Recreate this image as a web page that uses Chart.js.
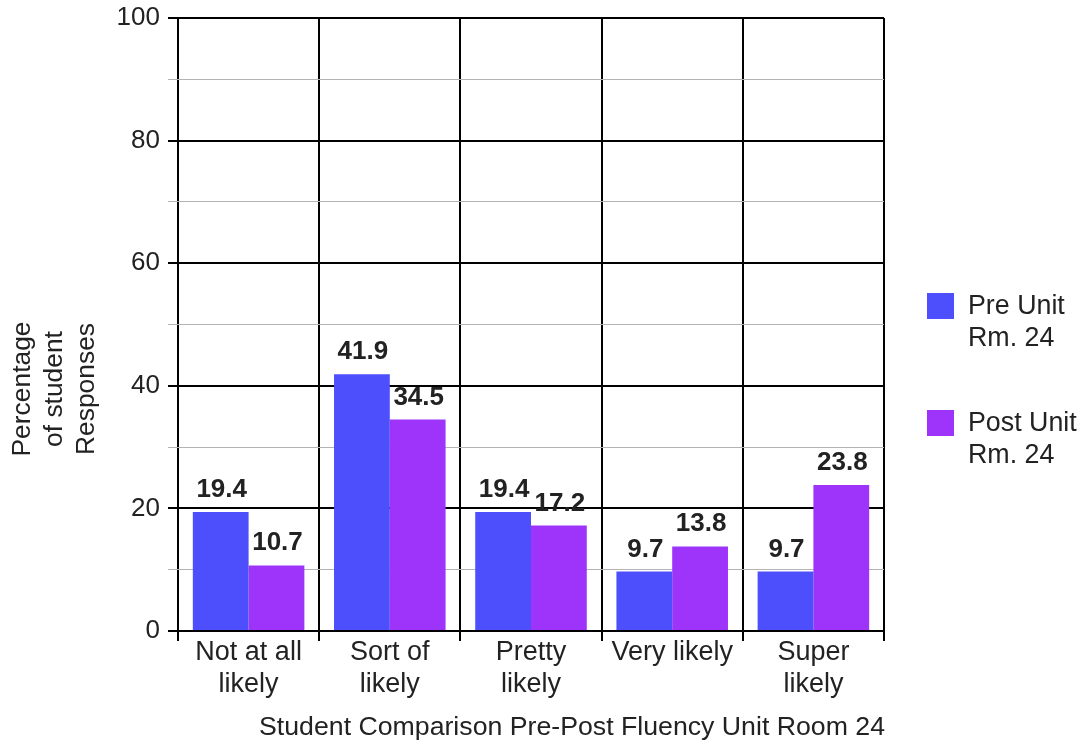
<!DOCTYPE html>
<html>
<head>
<meta charset="utf-8">
<script src="https://cdn.jsdelivr.net/npm/chart.js@4/dist/chart.umd.min.js"></script>
<style>
  html, body { margin: 0; padding: 0; background: #fff; }
  #wrap { width: 1083px; height: 746px; }
</style>
</head>
<body>
<div id="wrap"><canvas id="chart" width="1083" height="746"></canvas></div>
<script>
// Response categories (multi-line tick labels)
const categories = [
  ['Not at all', 'likely'],
  ['Sort of', 'likely'],
  ['Pretty', 'likely'],
  ['Very likely'],
  ['Super', 'likely']
];
// Percentage of student responses per category
const preUnit = [19.4, 41.9, 19.4, 9.7, 9.7];
const postUnit = [10.7, 34.5, 17.2, 13.8, 23.8];
// Series names, shown on two lines in the legend
const preName = ['Pre Unit', 'Rm. 24'];
const postName = ['Post Unit', 'Rm. 24'];
// Axis titles
const xTitle = 'Student Comparison Pre-Post Fluency Unit Room 24';
const yTitle = ['Percentage', 'of student', 'Responses'];
// Value axis range and steps
const yMin = 0, yMax = 100, yStep = 10, yLabelStep = 20;

const FONT = "'Liberation Sans', Arial, sans-serif";
const TEXT = '#222';
const PRE_COLOR = '#4c4ffb';
const POST_COLOR = '#9e34fa';

// Value labels, axis titles and the side legend
const extras = {
  id: 'extras',
  afterDatasetsDraw(chart) {
    const ctx = chart.ctx;
    ctx.save();
    ctx.fillStyle = TEXT;
    ctx.font = 'bold 26px ' + FONT;
    ctx.textAlign = 'center';
    ctx.textBaseline = 'alphabetic';
    chart.data.datasets.forEach((ds, i) => {
      chart.getDatasetMeta(i).data.forEach((bar, j) => {
        ctx.fillText(ds.data[j].toFixed(1), bar.x + 1, bar.y - 15);
      });
    });
    ctx.restore();
  },
  afterDraw(chart) {
    const ctx = chart.ctx;
    const area = chart.chartArea;
    ctx.save();
    ctx.fillStyle = TEXT;
    ctx.textBaseline = 'middle';

    // x axis title, right-aligned to the plot
    ctx.font = '26.7px ' + FONT;
    ctx.textAlign = 'right';
    ctx.fillText(xTitle, area.right + 1, 728);

    // y axis title, three rotated lines
    ctx.font = '26.4px ' + FONT;
    ctx.textAlign = 'center';
    yTitle.forEach((line, k) => {
      ctx.save();
      ctx.translate(23 + k * 32, 389);
      ctx.rotate(-Math.PI / 2);
      ctx.fillText(line, 0, 0);
      ctx.restore();
    });

    // legend
    const entries = [
      { name: preName, color: PRE_COLOR, top: 293 },
      { name: postName, color: POST_COLOR, top: 410 }
    ];
    ctx.font = '26.8px ' + FONT;
    ctx.textAlign = 'left';
    entries.forEach(e => {
      ctx.fillStyle = e.color;
      ctx.fillRect(927, e.top, 27, 26);
      ctx.fillStyle = TEXT;
      e.name.forEach((line, k) => {
        ctx.fillText(line, 968, e.top + 14 + k * 32);
      });
    });
    ctx.restore();
  }
};

new Chart(document.getElementById('chart'), {
  type: 'bar',
  data: {
    labels: categories,
    datasets: [
      { label: preName.join(' '), data: preUnit, backgroundColor: PRE_COLOR, borderWidth: 0 },
      { label: postName.join(' '), data: postUnit, backgroundColor: POST_COLOR, borderWidth: 0 }
    ]
  },
  options: {
    responsive: false,
    animation: false,
    events: [],
    datasets: { bar: { categoryPercentage: 0.79, barPercentage: 1.0 } },
    layout: { padding: { top: 18, right: 199, left: 0, bottom: 0 } },
    plugins: { legend: { display: false }, tooltip: { enabled: false } },
    scales: {
      x: {
        offset: true,
        grid: { offset: true, color: '#000', lineWidth: 2, tickLength: 10 },
        border: { display: false },
        ticks: {
          font: { size: 27, family: FONT, lineHeight: 32 / 27 },
          color: TEXT, padding: -4, maxRotation: 0, autoSkip: false
        },
        afterFit: s => { s.height = 115; s.paddingLeft = 0; s.paddingRight = 0; }
      },
      y: {
        min: yMin, max: yMax,
        ticks: {
          stepSize: yStep,
          callback: v => (v % yLabelStep === 0 ? v : ''),
          font: { size: 26, family: FONT },
          color: TEXT, padding: 8
        },
        grid: {
          color: c => (c.tick && c.tick.value % yLabelStep === 0 ? '#000' : '#b4b4b4'),
          lineWidth: c => (c.tick && c.tick.value % yLabelStep === 0 ? 2 : 1),
          tickLength: 10
        },
        border: { display: false },
        afterFit: s => { s.width = 178; s.paddingTop = 0; s.paddingBottom = 0; }
      }
    }
  },
  plugins: [extras]
});
</script>
</body>
</html>
